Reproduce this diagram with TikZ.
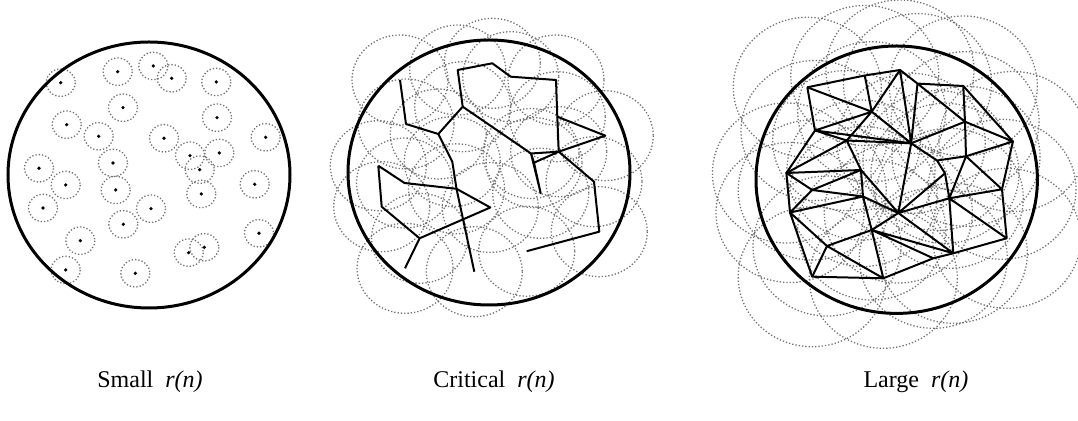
\documentclass[tikz,border=0pt]{standalone}
\usepackage{fontspec}
\setmainfont{Liberation Serif}
\usetikzlibrary{calc}

\tikzset{
  disk/.style={line width=1.5pt},
  reach/.style={densely dotted,black!55,line width=0.65pt},
  link/.style={line width=1pt,line join=round},
  caption/.style={font=\fontsize{12}{14}\selectfont}
}

\begin{document}
\begin{tikzpicture}[x=0.5pt,y=-0.5pt]
  \useasboundingbox (0,0) rectangle (1078,421);
  % small r(n)
  \foreach \n/\x/\y in {1/60.7/82.7,2/117.7/71.7,3/153.3/66,4/171.7/78.3,5/216.3/82,
    6/123/107.7,7/217/117.7,8/66.7/124.7,9/98.7/136.3,10/164/138.3,11/265.7/137.3,
    12/190/155.7,13/219.3/153,14/113/163,15/39/168.3,16/199.7/169.7,17/65.7/185,
    18/115.7/190,19/254.7/184.3,20/201.3/194,21/43/208,22/151/208.7,23/123.3/224.3,
    24/80.3/240.7,25/259/233.3,26/188.7/252.7,27/204.3/247.3,28/65.7/270,29/135.3/273.3}
    \coordinate (s\n) at (\x,\y);
  \foreach \n in {1,...,29} {
    \draw[reach] (s\n) ellipse [x radius=14.5,y radius=13.7];
    \fill (s\n) circle [radius=1.8];
  }
  \draw[disk] (149,175) ellipse [x radius=141,y radius=133];
  \node[caption] (small) at (150,382) {Small~~\textit{r(n)}};

  % critical r(n)
  \foreach \n/\x/\y in {1/400/80,2/406/124,3/438.3/134,4/462.7/106.7,5/457.7/70,
    6/492.3/63.3,7/510.7/76.7,8/556/80,9/557.3/116.7,10/605.3/135.7,11/558.7/151.7,
    12/531/153.5,13/534/162.7,14/540.7/193.3,15/594/181.7,16/599.3/231.7,17/526.7/251.2,
    18/452.3/161.7,19/474.3/271.7,20/378.3/165.7,21/404.5/183,22/456.5/188.8,23/490.3/207.5,
    24/419.6/238.3,25/381.7/206.7,26/405/268.3}
    \coordinate (c\n) at (\x,\y);
  \foreach \n in {1,...,26}
    \draw[reach] (c\n) ellipse [x radius=48,y radius=45];
  \draw[disk] (489,172.5) ellipse [x radius=141,y radius=132.5];
  \draw[link] (c1)--(c2)--(c3)--(c4)--(c5)--(c6)--(c7)--(c8)--(c9)--(c10)--(c11)--(c15)--(c16)--(c17);
  \draw[link] (c9)--(c11)--(c12)--(c4);
  \draw[link] (c11)--(c13)--(c14)--(c12)--(c13);
  \draw[link] (c3)--(c18)--(c22)--(c19);
  \draw[link] (c20)--(c21)--(c22)--(c23)--(c24)--(c25)--(c20);
  \draw[link] (c24)--(c26);
  \node[caption] (critical) at (494,382) {Critical~~\textit{r(n)}};

  % large r(n)
  \foreach \n/\x/\y in {1/807.3/87.3,2/864.8/75.5,3/900/70,4/917.5/83.6,5/963.3/86,
    6/871.7/111.7,7/815/130.5,8/846.7/140.5,9/911.2/143.3,10/965/121.7,11/1012.9/141.5,
    12/966/156.3,13/937/160.5,14/945/173.3,15/786.4/173,16/861/170,17/812.2/190,
    18/863/196.5,19/898.3/213,20/949.3/198.3,21/1002/189.3,22/790/212.5,23/871.7/230,
    24/827/246,25/953.3/253.3,26/1006.7/238.3,27/812.2/276.7,28/883.3/278.3,29/933.3/258.3}
    \coordinate (l\n) at (\x,\y);
  \foreach \n in {1,...,29}
    \draw[reach] (l\n) ellipse [x radius=74,y radius=70];
  \draw[disk] (896.7,179.7) ellipse [x radius=140.7,y radius=133.7];
  \draw[link] (l1)--(l2)--(l3)--(l4)--(l5)--(l11)--(l21)--(l26)--(l25)--(l29)--(l28)--(l27)--(l22)--(l15)--(l7)--(l1);
  \draw[link] (l1)--(l6)--(l2) (l3)--(l6)--(l7)--(l8)--(l6)--(l9)--(l3) (l4)--(l9) (l7)--(l9);
  \draw[link] (l4)--(l10)--(l5) (l9)--(l10)--(l11)--(l12)--(l10);
  \draw[link] (l9)--(l13)--(l12) (l13)--(l14)--(l20)--(l12)--(l21)--(l20)--(l26) (l20)--(l25);
  \draw[link] (l8)--(l9) (l15)--(l8)--(l16)--(l15)--(l17)--(l16)--(l18)--(l17)--(l22)--(l18);
  \draw[link] (l16)--(l19)--(l9) (l14)--(l19)--(l20) (l18)--(l19);
  \draw[link] (l22)--(l24)--(l27) (l24)--(l23)--(l19) (l24)--(l28)--(l23)--(l25)--(l19) (l23)--(l29) (l18)--(l23);
  \node[caption] (large) at (916,382) {Large~~\textit{r(n)}};
\end{tikzpicture}
\end{document}
